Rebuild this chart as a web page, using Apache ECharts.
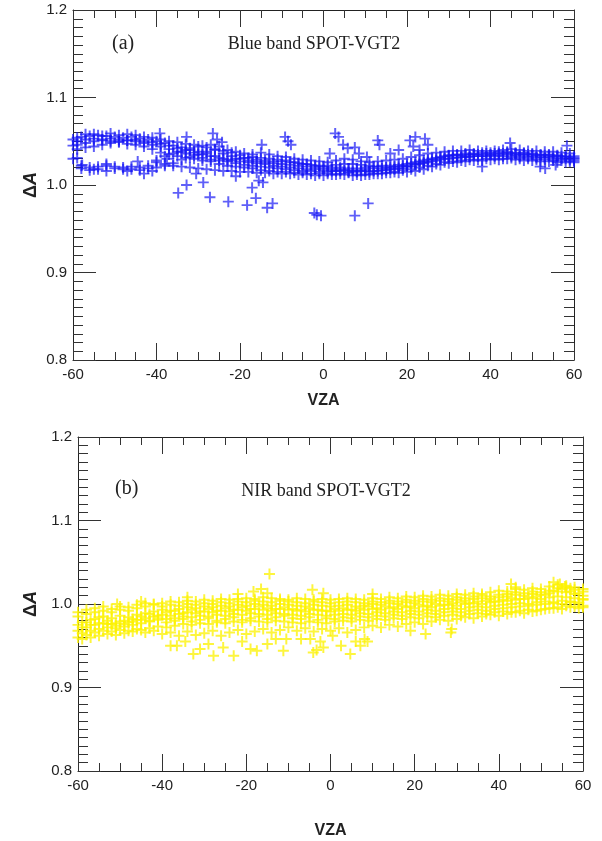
<!DOCTYPE html>
<html>
<head>
<meta charset="utf-8">
<script src="https://cdn.jsdelivr.net/npm/echarts@6/dist/echarts.min.js"></script>
<style>
html,body{margin:0;padding:0;background:#fff;}
#chart{width:602px;height:841px;}
</style>
</head>
<body>
<div id="chart"></div>
<script>
// ---------- data ----------
const vzaEven = [-60,-58,-56,-54,-52,-50,-48,-46,-44,-42,-40,-38,-36,-34,-32,-30,-28,-26,-24,-22,-20,-18,-16,-14,-12,-10,-8,-6,-4,-2,0,2,4,6,8,10,12,14,16,18,20,22,24,26,28,30,32,34,36,38,40,42,44,46,48,50,52,54,56,58,60];
const vzaOdd = [-59,-57,-55,-53,-51,-49,-47,-45,-43,-41,-39,-37,-35,-33,-31,-29,-27,-25,-23,-21,-19,-17,-15,-13,-11,-9,-7,-5,-3,-1,1,3,5,7,9,11,13,15,17,19,21,23,25,27,29,31,33,35,37,39,41,43,45,47,49,51,53,55,57,59];

const blueTrack1 = [1.052,1.055,1.056,1.057,1.056,1.055,1.054,1.055,1.053,1.052,1.050,1.048,1.045,1.043,1.040,1.038,1.036,1.033,1.030,1.028,1.027,1.026,1.025,1.024,1.022,1.021,1.020,1.019,1.018,1.018,1.017,1.016,1.016,1.015,1.015,1.016,1.016,1.017,1.018,1.019,1.021,1.023,1.025,1.027,1.029,1.030,1.031,1.032,1.033,1.033,1.034,1.034,1.035,1.034,1.034,1.033,1.032,1.032,1.031,1.030,1.030];
const blueTrack2 = [1.046,1.048,1.050,1.051,1.050,1.049,1.047,1.046,1.044,1.041,1.037,1.035,1.033,1.031,1.030,1.028,1.027,1.024,1.022,1.021,1.020,1.019,1.017,1.016,1.015,1.015,1.014,1.014,1.013,1.013,1.013,1.012,1.012,1.011,1.011,1.012,1.013,1.014,1.015,1.017,1.018,1.020,1.022,1.024,1.026,1.027,1.028,1.029,1.029,1.030,1.030,1.030,1.031,1.030,1.030,1.029,1.029,1.028,1.028,1.027];
const blueTrack3 = [1.030,1.022,1.020,1.021,1.022,1.021,1.020,1.018,1.017,1.019,1.020,1.022,1.025,1.029,1.032,1.035,1.038,1.040,1.039,1.037,1.034,1.031,1.029,1.028,1.027,1.027,1.026,1.025,1.024,1.022,1.021,1.020,1.020,1.019,1.019,1.020,1.021,1.022,1.022,1.023,1.024,1.026,1.028,1.030,1.032,1.034,1.035,1.036,1.036,1.037,1.037,1.038,1.038,1.037,1.037,1.036,1.035,1.035,1.034,1.033,1.033];
const blueTrack4 = [1.041,1.043,1.044,1.046,1.048,1.050,1.051,1.050,1.048,1.046,1.044,1.041,1.038,1.036,1.034,1.031,1.029,1.028,1.029,1.030,1.031,1.032,1.031,1.030,1.029,1.028,1.026,1.024,1.023,1.022,1.022,1.023,1.024,1.024,1.023,1.022,1.021,1.020,1.021,1.022,1.025,1.027,1.029,1.031,1.033,1.034,1.034,1.035,1.035,1.036,1.036,1.036,1.036,1.035,1.035,1.034,1.034,1.033,1.033,1.032];
const blueTrack5 = [null,null,null,null,null,null,null,null,null,null,1.026,1.024,1.022,1.021,1.020,1.019,1.018,1.017,1.016,1.016,1.015,1.015,1.014,1.014,1.013,1.013,1.013,1.012,1.012,1.011,1.011,1.012,1.013,1.014,1.012,1.012,1.013,1.013,1.014,1.014,1.015,1.016,1.018,1.021,1.023,1.025,1.026,1.027,1.028,1.028,1.029,1.029,1.030,1.029,1.028,1.028,1.027,1.027,1.026,1.026,1.026];
const blueTrack6 = [1.054,1.058,1.058,1.056,1.059,1.057,1.058,1.057,1.055,1.054,1.052,1.050,1.049,1.047,1.046,1.045,1.046,1.044,1.040,1.038,1.036,1.035,1.037,1.035,1.033,1.032,1.030,1.029,1.028,1.027,1.026,1.028,1.030,1.029,1.027,1.026,1.027,1.028,1.029,1.030,1.032,1.034,1.036,1.037,1.038,1.039,1.039,1.040,1.039,1.039,1.039,1.040,1.041,1.040,1.039,1.039,1.038,1.038,1.037,1.036];
const blueTrack7 = [1.050,1.052,1.053,1.052,1.053,1.052,1.051,1.052,1.050,1.049,1.047,1.045,1.042,1.040,1.037,1.035,1.033,1.031,1.027,1.025,1.023,1.022,1.021,1.020,1.019,1.018,1.017,1.016,1.016,1.015,1.015,1.016,1.017,1.016,1.016,1.015,1.016,1.017,1.018,1.019,1.021,1.024,1.026,1.028,1.030,1.031,1.032,1.032,1.033,1.033,1.033,1.033,1.033,1.032,1.032,1.031,1.031,1.030,1.030,1.029];
const blueTrack8 = [1.045,1.019,1.017,1.018,1.016,1.019,1.018,1.021,1.020,1.022,1.028,1.033,1.036,1.038,1.042,1.044,1.043,1.041,1.036,1.033,1.030,1.028,1.027,1.026,1.025,1.024,1.023,1.022,1.021,1.020,1.019,1.018,1.018,1.017,1.017,1.018,1.019,1.019,1.020,1.021,1.022,1.024,1.026,1.029,1.031,1.033,1.034,1.034,1.035,1.035,1.035,1.036,1.037,1.036,1.036,1.035,1.034,1.034,1.033,1.032,1.031];
const blueScatter = [[-59,1.031],[-57.8,1.023],[-55,1.018],[-52,1.024],[-47,1.016],[-44.5,1.027],[-43,1.013],[-41,1.016],[-39.2,1.059],[-37.5,1.030],[-34.8,0.991],[-32.8,1.000],[-32.8,1.055],[-30.5,1.013],[-28.8,1.003],[-27.2,0.986],[-26.5,1.059],[-25.5,1.052],[-24.3,1.049],[-22.8,0.981],[-21,1.010],[-18.3,0.977],[-17.1,0.997],[-16.2,0.985],[-15.5,1.005],[-14.8,1.046],[-14.5,1.003],[-13.5,0.974],[-12.2,0.979],[-9.2,1.055],[-8.5,1.050],[-7.8,1.046],[-1.6,0.966],[-0.6,0.965],[-2.2,0.968],[1.5,1.036],[2.8,1.059],[3.6,1.055],[4.7,1.046],[5.8,1.042],[7.5,1.043],[7.5,0.965],[8.5,1.036],[10.4,1.032],[10.7,0.979],[13,1.051],[13.4,1.046],[16,1.036],[18,1.040],[20.7,1.051],[22,1.055],[24.3,1.053],[23,1.040],[21.5,1.044],[25,1.046],[38,1.021],[44.7,1.048],[51.9,1.021],[53.1,1.019],[55.6,1.023],[58.3,1.045],[60,1.028]];

const yellowTrack1 = [0.975,0.978,0.982,0.985,0.983,0.986,0.984,0.987,0.989,0.991,0.993,0.992,0.994,0.996,0.995,0.997,0.996,0.998,0.997,0.999,0.998,1.000,0.999,0.998,1.000,0.999,0.998,0.997,0.999,0.998,0.997,0.998,0.999,0.997,0.998,1.000,0.999,1.001,1.000,1.002,1.001,1.003,1.002,1.004,1.003,1.005,1.004,1.006,1.007,1.006,1.008,1.009,1.011,1.010,1.012,1.011,1.013,1.015,1.014,1.012,1.010];
const yellowTrack2 = [0.965,0.968,0.970,0.972,0.971,0.973,0.975,0.977,0.979,0.981,0.982,0.983,0.985,0.984,0.986,0.985,0.987,0.986,0.988,0.987,0.989,0.988,0.987,0.989,0.988,0.987,0.986,0.988,0.987,0.986,0.987,0.988,0.987,0.989,0.988,0.990,0.989,0.991,0.990,0.992,0.991,0.993,0.992,0.994,0.995,0.994,0.996,0.997,0.996,0.998,0.999,1.000,1.001,1.000,1.002,1.003,1.002,1.004,1.003,1.002];
const yellowTrack3 = [0.985,0.988,0.990,0.992,0.990,0.993,0.992,0.995,0.997,0.999,1.001,1.003,1.002,1.004,1.003,1.005,1.004,1.006,1.005,1.006,1.007,1.006,1.008,1.007,1.006,1.005,1.007,1.006,1.005,1.006,1.005,1.006,1.007,1.006,1.005,1.007,1.006,1.008,1.007,1.009,1.008,1.010,1.009,1.011,1.010,1.012,1.011,1.013,1.012,1.014,1.016,1.015,1.018,1.017,1.019,1.018,1.021,1.023,1.022,1.020,1.018];
const yellowTrack4 = [0.958,0.960,0.962,0.964,0.963,0.965,0.967,0.969,0.971,0.973,0.972,0.974,0.976,0.975,0.977,0.976,0.978,0.977,0.979,0.978,0.980,0.979,0.978,0.980,0.979,0.978,0.977,0.979,0.978,0.977,0.979,0.980,0.979,0.981,0.980,0.982,0.981,0.983,0.982,0.984,0.983,0.985,0.984,0.986,0.987,0.986,0.988,0.989,0.988,0.990,0.991,0.990,0.992,0.993,0.992,0.994,0.995,0.994,0.996,0.995];
const yellowTrack5 = [0.968,0.972,0.975,0.977,0.976,0.979,0.978,0.981,0.983,0.985,0.987,0.986,0.988,0.990,0.989,0.991,0.990,0.992,0.991,0.993,0.992,0.994,0.993,0.992,0.994,0.993,0.992,0.991,0.993,0.992,0.991,0.992,0.993,0.992,0.993,0.994,0.993,0.995,0.994,0.996,0.995,0.997,0.996,0.998,0.999,0.998,1.000,1.001,1.000,1.002,1.003,1.004,1.005,1.006,1.007,1.006,1.008,1.009,1.008,1.007,1.006];
const yellowTrack6 = [0.978,0.981,0.984,0.980,0.977,0.980,0.982,0.985,0.988,0.986,0.990,0.992,0.989,0.993,0.991,0.994,0.992,0.995,0.993,0.996,0.994,0.997,0.995,0.994,0.996,0.994,0.993,0.995,0.993,0.992,0.994,0.995,0.993,0.995,0.997,0.995,0.997,0.996,0.998,0.997,0.999,0.998,1.000,0.999,1.001,1.002,1.001,1.003,1.004,1.003,1.005,1.007,1.006,1.008,1.009,1.011,1.016,1.018,1.015,1.013];
const yellowTrack7 = [0.960,0.963,0.966,0.968,0.967,0.969,0.968,0.970,0.966,0.968,0.964,0.966,0.962,0.967,0.963,0.965,0.968,0.962,0.966,0.969,0.964,0.967,0.970,0.966,0.969,0.972,0.968,0.971,0.967,0.970,0.968,0.971,0.966,0.969,0.972,0.974,0.972,0.975,0.973,0.976,0.978,0.976,0.979,0.981,0.980,0.982,0.984,0.983,0.985,0.987,0.986,0.988,0.990,0.989,0.991,0.993,0.995,0.996,0.998,0.997,0.996];
const yellowTrack8 = [0.972,0.975,0.977,0.976,0.974,0.976,0.979,0.981,0.980,0.983,0.978,0.980,0.982,0.979,0.981,0.983,0.980,0.982,0.984,0.981,0.983,0.985,0.982,0.984,0.986,0.983,0.982,0.984,0.981,0.983,0.982,0.984,0.983,0.985,0.984,0.986,0.985,0.987,0.986,0.988,0.987,0.989,0.988,0.990,0.991,0.990,0.992,0.993,0.992,0.994,0.995,0.996,0.997,0.998,0.999,1.000,1.001,1.000,1.002,1.001];
const yellowTrack9 = [0.990,0.993,0.995,0.997,0.994,0.997,0.996,0.999,1.001,1.000,0.997,0.999,0.998,1.000,0.999,1.001,1.000,1.002,1.001,1.003,1.002,1.004,1.003,1.002,1.004,1.003,1.002,1.001,1.003,1.002,1.001,1.002,1.003,1.002,1.001,1.003,1.002,1.004,1.003,1.005,1.004,1.006,1.005,1.007,1.006,1.008,1.007,1.009,1.010,1.009,1.011,1.012,1.014,1.013,1.015,1.014,1.016,1.019,1.020,1.017,1.015];
const yellowScatter = [[-38,0.950],[-36.5,0.950],[-34.5,0.955],[-32.6,0.940],[-31,0.946],[-29,0.952],[-27.8,0.938],[-25.5,0.948],[-23,0.938],[-21,0.955],[-19,0.946],[-17.5,0.944],[-15,0.952],[-13,0.958],[-11.2,0.944],[-10.5,0.958],[-7,0.958],[-4.8,0.958],[-4.1,0.942],[-3.3,0.945],[-2.4,0.955],[-1.7,0.948],[0.5,0.962],[2.5,0.950],[4.7,0.940],[6,0.955],[7.1,0.950],[8.1,0.958],[8.8,0.955],[19,0.968],[22.6,0.964],[28.6,0.966],[28.8,0.970],[-14.5,1.036],[-18.3,1.015],[-16.5,1.018],[-15,1.013],[-4.3,1.017],[-1.7,1.013],[-50.7,1.000],[-34,1.008],[-45,1.003],[42.9,1.024],[44,1.020],[53,1.026],[54.5,1.024],[55.7,1.021],[57,1.019],[60,0.998],[60,1.005],[-22,1.012],[10,1.012]];

const xTicks = [-60,-40,-20,0,20,40,60];
const yTicks = [0.8,0.9,1.0,1.1,1.2];
const titleA = 'Blue band SPOT-VGT2';
const titleB = 'NIR band SPOT-VGT2';

// ---------- build ----------
function zip(xs, ys){ const out=[]; for(let i=0;i<xs.length;i++){ if(ys[i]!=null) out.push([xs[i],ys[i]]); } return out; }
const blueData = [].concat(
  zip(vzaEven, blueTrack1), zip(vzaOdd, blueTrack2), zip(vzaEven, blueTrack3),
  zip(vzaOdd, blueTrack4), zip(vzaEven, blueTrack5), zip(vzaOdd, blueTrack6),
  zip(vzaOdd, blueTrack7), zip(vzaEven, blueTrack8), blueScatter);
const yellowData = [].concat(
  zip(vzaEven, yellowTrack1), zip(vzaOdd, yellowTrack2), zip(vzaEven, yellowTrack3),
  zip(vzaOdd, yellowTrack4), zip(vzaEven, yellowTrack5), zip(vzaOdd, yellowTrack6),
  zip(vzaEven, yellowTrack7), zip(vzaOdd, yellowTrack8), zip(vzaEven, yellowTrack9), yellowScatter);

const PLUS = 'path://M4.1,0H5.9V4.1H10V5.9H5.9V10H4.1V5.9H0V4.1H4.1Z';
const FONT = 'Liberation Sans, Arial, Helvetica, sans-serif';
const SERIF = 'Liberation Serif, Times New Roman, serif';
const tickColor = '#333';

function xAx(grid, pos, showLabel, nameGap){
  return {
    gridIndex: grid, type:'value', position: pos,
    min: xTicks[0], max: xTicks[xTicks.length-1], interval: 20,
    axisLine:{show:true, onZero:false, lineStyle:{color:'#222', width:1}},
    axisTick:{show:true, inside:true, length:17, lineStyle:{color:tickColor}},
    minorTick:{show:true, splitNumber:4, length:8, lineStyle:{color:tickColor}},
    splitLine:{show:false},
    axisLabel:{show:showLabel, fontSize:15, color:'#222', fontFamily:FONT, margin:7},
    name: showLabel ? 'VZA' : '', nameLocation:'middle', nameGap: nameGap, nameMoveOverlap:false,
    nameTextStyle:{fontSize:16, fontWeight:'bold', color:'#222', fontFamily:FONT}
  };
}
function yAx(grid, pos, showLabel, nameGap){
  return {
    gridIndex: grid, type:'value', position: pos,
    min: yTicks[0], max: yTicks[yTicks.length-1], interval: 0.1,
    axisLine:{show:true, onZero:false, lineStyle:{color:'#222', width:1}},
    axisTick:{show:true, inside:true, length:23, lineStyle:{color:tickColor}},
    minorTick:{show:true, splitNumber:10, length:10, lineStyle:{color:tickColor}},
    splitLine:{show:false},
    axisLabel:{show:showLabel, fontSize:15, color:'#222', fontFamily:FONT, margin:6,
      formatter: v => v.toFixed(1)},
    name: showLabel ? '{d|Δ}{a|A}' : '', nameLocation:'middle', nameGap: nameGap, nameRotate: 90,
    nameMoveOverlap:false,
    nameTextStyle:{rich:{
      d:{fontSize:18, fontWeight:'bold', color:'#222', fontFamily:FONT},
      a:{fontSize:18, fontWeight:'bold', fontStyle:'italic', color:'#222', fontFamily:FONT}}}
  };
}

const chart = echarts.init(document.getElementById('chart'), null, {renderer:'canvas'});
chart.setOption({
  animation:false,
  backgroundColor:'#fff',
  grid:[
    {left:73, top:10, width:501, height:350},
    {left:78, top:437, width:505, height:334}
  ],
  xAxis:[ xAx(0,'bottom',true,33), xAx(0,'top',false,0), xAx(1,'bottom',true,52), xAx(1,'top',false,0) ],
  yAxis:[ yAx(0,'left',true,33), yAx(0,'right',false,0), yAx(1,'left',true,38), yAx(1,'right',false,0) ],
  series:[
    {type:'scatter', xAxisIndex:0, yAxisIndex:0, data:blueData, symbol:PLUS, symbolSize:11,
      itemStyle:{color:'rgba(20,20,245,0.85)'}},
    {type:'scatter', xAxisIndex:2, yAxisIndex:2, data:yellowData, symbol:PLUS, symbolSize:11,
      itemStyle:{color:'rgba(252,242,0,0.95)'}}
  ],
  graphic:[
    {type:'text', left:112, top:34, style:{text:'(a)', font:'20px '+SERIF, fill:'#222'}},
    {type:'text', x:314, y:44, style:{text:titleA, font:'18px '+SERIF, fill:'#222', textAlign:'center', textVerticalAlign:'middle'}},
    {type:'text', left:115, top:479, style:{text:'(b)', font:'20px '+SERIF, fill:'#222'}},
    {type:'text', x:326, y:491, style:{text:titleB, font:'18px '+SERIF, fill:'#222', textAlign:'center', textVerticalAlign:'middle'}}
  ]
});
</script>
</body>
</html>
